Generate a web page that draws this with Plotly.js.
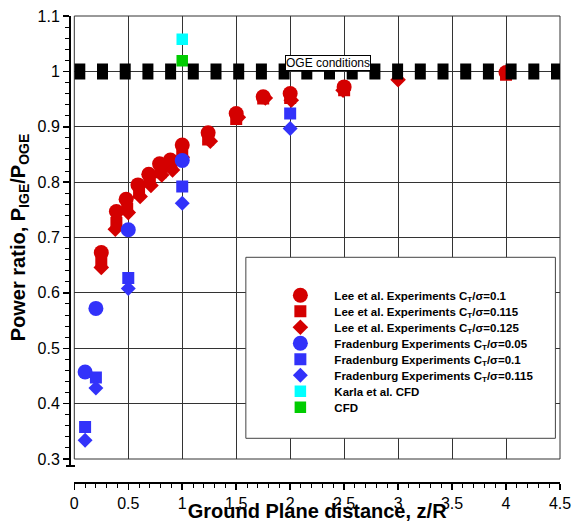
<!DOCTYPE html>
<html><head><meta charset="utf-8">
<script src="https://cdn.plot.ly/plotly-3.0.1.min.js"></script>
<style>html,body{margin:0;padding:0;background:#fff}#chart{width:573px;height:522px}</style>
</head><body><div id="chart"></div>
<script>
// ---- data ----
const leeCircleX = [0.25, 0.39, 0.48, 0.59, 0.69, 0.79, 0.89, 1.0, 1.24, 1.5, 1.75, 2.0, 2.5, 4.0];
const leeCircleY = [0.673, 0.747, 0.769, 0.795, 0.814, 0.833, 0.840, 0.867, 0.889, 0.924, 0.954, 0.960, 0.972, 0.998];
const leeSquareX = [0.25, 0.39, 0.49, 0.60, 0.70, 0.80, 0.90, 1.0, 1.24, 1.5, 1.75, 2.0, 2.5, 4.0];
const leeSquareY = [0.656, 0.726, 0.752, 0.781, 0.801, 0.818, 0.828, 0.852, 0.877, 0.914, 0.951, 0.952, 0.966, 0.994];
const leeDiamondX = [0.25, 0.38, 0.50, 0.61, 0.71, 0.81, 0.91, 1.0, 1.26, 1.52, 1.77, 2.01, 2.49, 3.0];
const leeDiamondY = [0.646, 0.715, 0.745, 0.774, 0.794, 0.813, 0.822, 0.845, 0.874, 0.917, 0.952, 0.948, 0.966, 0.985];
const fradCircleX = [0.1, 0.2, 0.5, 1.0];
const fradCircleY = [0.457, 0.572, 0.714, 0.839];
const fradSquareX = [0.1, 0.2, 0.5, 1.0, 2.0];
const fradSquareY = [0.358, 0.447, 0.627, 0.792, 0.924];
const fradDiamondX = [0.1, 0.2, 0.5, 1.0, 2.0];
const fradDiamondY = [0.334, 0.428, 0.608, 0.762, 0.897];
const karlaX = [1.0];
const karlaY = [1.058];
const cfdX = [1.0];
const cfdY = [1.019];
const ogeX = [0, 4.5];
const ogeY = [1, 1];
const seriesNames = [
  "<b>Lee et al. Experiments C<sub>T</sub>/σ=0.1</b>",
  "<b>Lee et al. Experiments C<sub>T</sub>/σ=0.115</b>",
  "<b>Lee et al. Experiments C<sub>T</sub>/σ=0.125</b>",
  "<b>Fradenburg Experiments C<sub>T</sub>/σ=0.05</b>",
  "<b>Fradenburg Experiments C<sub>T</sub>/σ=0.1</b>",
  "<b>Fradenburg Experiments C<sub>T</sub>/σ=0.115</b>",
  "<b>Karla et al. CFD</b>",
  "<b>CFD</b>"
];
const xTitle = "<b>Ground Plane distance, z/R</b>";
const yTitle = "<b>Power ratio, P<sub>IGE</sub>/P<sub>OGE</sub></b>";
const ogeLabel = "OGE conditions";

// ---- layout geometry ----
const W = 573, H = 522;
const mL = 60, mR = 13.4, mT = 16, mB = 30;
const pw = W - mL - mR, ph = H - mT - mB;
const px2x = px => (px - mL) / pw;        // pixel -> paper x (plot-area relative)
const py2y = py => 1 - (py - mT) / ph;    // pixel -> paper y
const plotLeft = 74.3, plotBottom = 459, yLineX = 70, xLineY = 483;
const FONT = "Liberation Sans, Arial, Helvetica, sans-serif";
const RED = "#d40000", BLUE = "#3232fa";

const seriesData = [
  [leeCircleX, leeCircleY, "circle", 15, RED],
  [leeSquareX, leeSquareY, "square", 12, RED],
  [leeDiamondX, leeDiamondY, "diamond", 12, RED],
  [fradCircleX, fradCircleY, "circle", 15, BLUE],
  [fradSquareX, fradSquareY, "square", 12, BLUE],
  [fradDiamondX, fradDiamondY, "diamond", 11.5, BLUE],
  [karlaX, karlaY, "square", 11.5, "#00ffff"],
  [cfdX, cfdY, "square", 11.5, "#00cc00"]
];

const traces = seriesData.map((s, i) => ({
  x: s[0], y: s[1], type: "scatter", mode: "markers", name: seriesNames[i],
  marker: {symbol: s[2], size: s[3], color: s[4], line: {width: 0}},
  legend: i === 0 ? "legend" : "legend" + (i + 1),
  hoverinfo: "x+y"
}));
traces.push({
  x: ogeX, y: ogeY, type: "scatter", mode: "lines", showlegend: false,
  line: {color: "black", width: 16, dash: "11px,11.7px"}, hoverinfo: "skip"
});

const layout = {
  width: W, height: H,
  margin: {l: mL, r: mR, t: mT, b: mB, pad: 0},
  paper_bgcolor: "white", plot_bgcolor: "white",
  font: {family: FONT, color: "black"},
  xaxis: {
    domain: [px2x(plotLeft), 1], range: [0, 4.5], tick0: 0, dtick: 0.5,
    anchor: "free", position: (H - mB - xLineY) / ph, automargin: false,
    showline: true, linewidth: 2, linecolor: "black",
    ticks: "outside", ticklen: 6, tickwidth: 1.5, tickcolor: "black",
    minor: {dtick: 0.1, ticks: "outside", ticklen: 4, tickwidth: 1, tickcolor: "black", showgrid: false},
    showgrid: true, gridcolor: "#333", gridwidth: 1, zeroline: false,
    tickfont: {size: 16, family: FONT, color: "black"},
    title: {text: xTitle, font: {size: 20, family: FONT, color: "black"}, standoff: 4}
  },
  yaxis: {
    domain: [py2y(plotBottom), 1], range: [0.3, 1.1], tick0: 0.3, dtick: 0.1,
    anchor: "free", position: px2x(yLineX), automargin: false,
    showline: true, linewidth: 2, linecolor: "black",
    ticks: "outside", ticklen: 6, tickwidth: 1.5, tickcolor: "black",
    minor: {dtick: 0.02, ticks: "outside", ticklen: 4, tickwidth: 1, tickcolor: "black", showgrid: false},
    showgrid: true, gridcolor: "#333", gridwidth: 1, zeroline: false,
    tickfont: {size: 16, family: FONT, color: "black"},
    title: {text: yTitle, font: {size: 20, family: FONT, color: "black"}, standoff: 6}
  },
  shapes: [
    {type: "rect", xref: "x domain", yref: "y domain", x0: 0, x1: 1, y0: 0, y1: 1,
     line: {color: "#333", width: 1}, fillcolor: "rgba(0,0,0,0)", layer: "below"},
    {type: "rect", xref: "paper", yref: "paper", x0: px2x(245.7), x1: px2x(555),
     y0: py2y(438.3), y1: py2y(257.3), line: {color: "#444", width: 1}, fillcolor: "white", layer: "above"},
    {type: "line", xref: "paper", yref: "paper", x0: px2x(yLineX), x1: px2x(yLineX),
     y0: py2y(plotBottom), y1: py2y(466), line: {color: "black", width: 2}},
    {type: "line", xref: "paper", yref: "paper", x0: px2x(66), x1: px2x(75),
     y0: py2y(466), y1: py2y(466), line: {color: "black", width: 2}}
  ],
  annotations: [
    {x: 2.352, y: 1.016, xref: "x", yref: "y", text: ogeLabel, showarrow: false,
     font: {size: 12, family: FONT, color: "black"}, bgcolor: "white",
     bordercolor: "black", borderwidth: 1, borderpad: 0}
  ],
  showlegend: true
};

for (let i = 0; i < 8; i++) {
  const key = i === 0 ? "legend" : "legend" + (i + 1);
  layout[key] = {
    x: px2x(266.2), y: py2y(295.2 + 16.02 * i), xanchor: "left", yanchor: "middle",
    bgcolor: "rgba(0,0,0,0)", borderwidth: 0, itemwidth: 58,
    font: {size: 11.5, family: FONT, color: "black"},
    itemclick: false, itemdoubleclick: false
  };
}

Plotly.newPlot("chart", traces, layout, {displayModeBar: false, staticPlot: true});
</script>
</body></html>
